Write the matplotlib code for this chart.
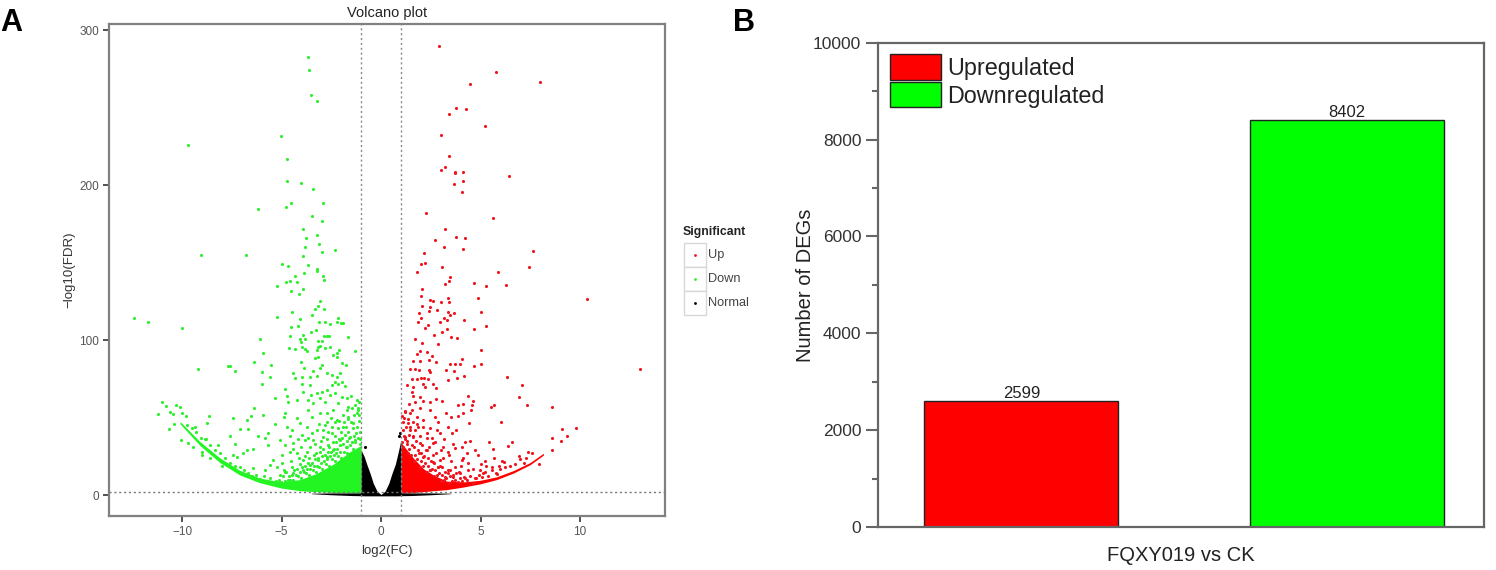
import matplotlib
matplotlib.use('Agg')
import matplotlib.pyplot as plt
from matplotlib.patches import Rectangle

plt.rcParams['font.family'] = ['Liberation Sans', 'DejaVu Sans']

W, H = 1496, 570

# A: scattered down-regulated genes (log2FC, -log10FDR)
down_top_x = [-3.65, -3.60, -3.54, -3.23, -5.03, -9.70, -4.74, -4.74, -4.02, -3.42, -4.52, -4.77, -2.91, -6.18, -3.48, -2.96, -3.93, -3.23, -3.78, -3.12, -3.81, -2.30, -2.97, -9.03, -6.78, -3.91, -4.99, -4.69, -3.69, -3.20]
down_top_y = [283, 274, 258, 254.6, 232, 226, 216.6, 203, 201.5, 197.8, 188.6, 186, 188.6, 184.5, 180, 177, 172, 168, 165.6, 162, 160, 158, 156.6, 155, 155, 154, 148.8, 148, 148.3, 146]
down_upper_x = [-12.43, -11.71, -9.98, -6.1, -7.67, -7.6, -7.34, -9.2, -6.36, -5.91, -5.53, -5.96, -5.6, -6.0, -5.23, -5.24, -4.77, -4.57, -4.22, -4.32, -3.87, -3.2, -2.91, -2.88, -3.94, -4.54, -4.12, -3.05, -3.32, -2.85, -3.15, -4.47, -3.47, -4.07, -4.19, -4.5, -3.1, -2.81, -2.56, -2.14, -2.23, -2.03, -1.91, -3.28, -3.5, -3.9, -4.56, -4.07, -3.82, -4.02, -1.67, -2.73, -2.86, -2.63, -3.15, -2.98, -3.07, -2.56, -2.81, -3.15, -3.2, -3.99, -3.82, -3.73, -4.6, -4.3, -1.29, -2.13, -2.19, -2.39, -2.21, -3.15, -3.32, -4.02, -1.98, -1.76, -2.95, -3.07, -3.87, -3.4, -4.44, -4.32, -3.57, -3.99, -3.23, -2.73, -2.48, -2.23, -2.06, -2.31, -2.48, -2.14, -1.81, -1.98, -3.57, -3.99, -3.9, -4.82, -4.74, -5.33, -4.66, -4.24, -3.53, -3.65, -3.23, -2.98, -2.73, -2.56, -3.07, -2.81, -2.31, -1.98, -1.72, -1.22]
down_upper_y = [114.2, 111.4, 108, 101, 83.2, 83.4, 79.8, 81.3, 86, 91.4, 84.1, 79.6, 76.4, 71.4, 135, 114.8, 137.2, 138, 137.2, 141.3, 143, 144.3, 141.3, 138.7, 133.3, 131.6, 129.5, 125.2, 120.4, 120.4, 122.2, 118, 116.3, 113.8, 109, 108.6, 111.8, 111.4, 110.1, 114, 111.4, 111.2, 111.2, 106.5, 105.2, 103.2, 102.4, 100.7, 100.4, 98.9, 101.7, 102.8, 102.8, 102.6, 99.6, 99.4, 96.1, 95.7, 94.6, 95.3, 93.6, 95.7, 94, 92.9, 95, 94.2, 93.3, 93.6, 91.4, 90.3, 89, 88.8, 88.2, 85.8, 85.4, 83.9, 83.9, 81.7, 82.2, 79.8, 79, 75.3, 76.4, 76.4, 77, 78.5, 77.4, 76.4, 79, 73.1, 71, 72, 70.3, 73.1, 71, 72, 66.7, 68.4, 63.9, 62.8, 60.2, 61.3, 64.5, 61.3, 65.6, 66.7, 67.8, 64.5, 62.4, 60.2, 65.6, 63.5, 62.4, 61.3]
down_low_x = [-11.02, -10.82, -10.6, -10.47, -11.22, -10.3, -10.1, -10.02, -9.8, -10.38, -10.64, -10.05, -9.35, -9.68, -9.43, -9.01, -9.01, -8.59, -8.79, -8.76, -8.64, -8.17, -7.59, -7.42, -6.75, -6.55, -6.38, -7.08, -6.67, -5.91, -6.2, -7.34, -6.75, -6.92, -6.41, -7.42, -7.25, -6.41, -5.83, -5.66, -5.33, -5.66, -5.41, -5.58, -5.83, -5.24, -4.82, -4.9, -4.74, -4.49, -5.07, -4.82, -4.4, -4.99, -4.57, -4.07, -4.24, -3.99, -4.24, -3.9, -3.65, -3.48, -3.73, -3.23, -3.4, -3.57, -3.82, -3.07, -2.73, -2.9, -2.48, -3.07, -2.65, -2.4, -2.23, -1.89, -2.06, -1.64, -1.39, -1.22, -1.56, -1.72, -1.3, -2.14, -1.64, -1.14, -3.4, -2.4, -2.73, -3.15, -3.57, -3.9, -4.4, -4.82]
down_low_y = [59.8, 57.4, 53.8, 52.3, 52.1, 58.1, 56.6, 52.7, 50.8, 45.8, 42.4, 35.5, 44.1, 33.4, 31.2, 28, 25.8, 23.7, 36, 46.7, 51, 32.3, 38.3, 49.7, 48.4, 51, 56.4, 42.4, 42.4, 51.6, 38.3, 33, 29, 26.9, 29.7, 25.8, 24.8, 17.2, 36.6, 39.8, 45.8, 32.3, 22.6, 19.4, 16.2, 18.3, 52.7, 50.6, 44.1, 41.9, 35.5, 32.3, 33.4, 25.8, 28, 46.3, 49.5, 38.7, 26.9, 22.6, 54.9, 50.6, 44.1, 41.9, 35.5, 31.2, 35.5, 52.7, 47.3, 37.7, 39.8, 31.2, 32.3, 54.9, 48.4, 44.1, 35.5, 50.6, 46.3, 52.7, 37.7, 31.2, 35.5, 59.2, 57, 54.9, 59.2, 29, 24.8, 22.6, 19.4, 16.2, 14, 15]
# rough reading of the crowded speckle just above the solid green mass
down_dense_x = [-1.08, -1.15, -1.06, -1.2, -1.12, -1.3, -1.09, -1.25, -1.18, -1.05,
                -1.4, -1.48, -1.35, -1.55, -1.42, -1.6, -1.5, -1.38, -1.66, -1.45,
                -1.7, -1.78, -1.85, -1.72, -1.9, -1.8, -1.95, -1.75, -1.68, -1.88,
                -2.0, -2.08, -2.15, -2.05, -2.2, -2.12, -2.25, -2.02, -2.18, -2.28,
                -2.3, -2.38, -2.45, -2.35, -2.5, -2.42, -2.55, -2.33, -2.48, -2.6,
                -2.62, -2.7, -2.78, -2.66, -2.82, -2.74, -2.88, -2.64, -2.8, -2.92,
                -2.95, -3.02, -3.1, -2.98, -3.15, -3.05, -3.2, -3.0, -3.12, -3.25,
                -3.28, -3.35, -3.42, -3.3, -3.48, -3.38, -3.55, -3.32, -3.45, -3.6,
                -3.62, -3.7, -3.78, -3.66, -3.82, -3.74, -3.88, -3.68, -3.8, -3.95,
                -4.0, -4.08, -4.15, -4.05, -4.2, -4.12, -4.28, -4.02, -4.18, -4.35,
                -4.4, -4.48, -4.55, -4.45, -4.62, -4.52, -4.7, -4.42, -4.58, -4.78,
                -4.85, -4.95, -5.05, -4.9, -5.15, -5.0, -5.3, -5.1, -5.45, -5.6,
                -5.75, -5.9, -6.1, -6.3, -6.5, -6.7, -6.9, -7.1, -7.35, -7.6,
                -7.85, -8.1, -8.35, -8.6, -8.85, -9.05, -9.3, -9.5, -9.75, -8.0,
                -1.12, -1.32, -1.52, -1.72, -1.92, -2.12, -2.32, -2.52, -2.72, -2.92]
down_dense_y = [33, 37, 41, 44, 48, 34, 52, 40, 56, 36,
                30, 34, 38, 32, 43, 37, 47, 52, 41, 56,
                27, 31, 28, 35, 33, 39, 37, 44, 49, 47,
                24, 28, 25, 32, 30, 36, 27, 41, 43, 34,
                22, 26, 23, 30, 28, 34, 25, 38, 44, 31,
                19, 23, 20, 28, 26, 36, 22, 41, 45, 30,
                17, 21, 18, 25, 24, 28, 19, 35, 46, 27,
                15, 19, 16, 23, 21, 26, 17, 33, 40, 24,
                13, 17, 14, 21, 19, 28, 15, 37, 25, 18,
                11, 15, 12, 20, 17, 24, 13, 31, 36, 16,
                10, 13, 9.5, 18, 12, 22, 10, 30, 38, 15,
                9, 12, 8.5, 16, 10, 21, 9, 13, 8, 11,
                9, 12, 10.5, 13, 12.5, 14, 16, 18, 19, 21,
                24, 27, 29, 32, 36, 37, 41, 43, 45, 19,
                60, 58, 64, 55, 52, 48, 47, 50, 53, 42]

# A: scattered up-regulated genes
up_top_x = [2.93, 5.76, 4.49, 7.99, 3.75, 4.29, 3.40, 5.21, 3.03, 3.40, 3.23, 3.03, 3.70, 3.72, 4.10, 6.43, 4.10, 3.65, 4.07, 2.26, 5.61, 3.20, 3.77, 4.22, 2.71, 3.18, 4.12, 7.62, 2.16, 2.19, 2.01, 3.07, 7.44]
up_top_y = [290, 273, 265.6, 266.5, 249.7, 249, 246, 238, 232.5, 218.7, 211.6, 210, 208.4, 207.6, 208.4, 205.6, 202.4, 200.8, 195.3, 182, 178.7, 171.4, 166.5, 166.2, 164.5, 160.4, 159, 157.8, 156.3, 149.5, 148.8, 147.3, 147]
up_upper_x = [10.34, 13.0, 1.81, 3.45, 3.22, 3.43, 5.88, 4.67, 5.28, 6.26, 2.08, 2.03, 3.35, 3.4, 4.89, 2.46, 2.61, 3.03, 2.08, 2.48, 2.4, 2.83, 3.37, 3.67, 3.48, 5.04, 1.89, 2.03, 1.84, 3.15, 3.33, 2.98, 4.19, 2.35, 2.21, 3.3, 3.08, 4.69, 5.28, 2.68, 3.53, 3.84, 1.73, 2.04, 2.88, 5.01, 1.96, 2.33, 1.79, 2.55, 1.61, 1.96, 2.43, 2.76, 4.07, 3.48, 3.7, 3.99, 4.66, 5.01, 1.46, 1.71, 1.93, 2.43, 3.25, 3.67, 2.46, 1.57, 1.79, 2.03, 2.18, 2.38, 3.38, 3.84, 4.17, 6.33, 1.31, 1.59, 2.13, 2.21, 2.63, 2.76, 7.07, 6.93, 1.57, 1.63, 1.96, 1.71, 2.13, 2.46, 2.76, 3.05, 4.36, 4.64, 4.14, 3.89, 4.59, 5.68, 5.53, 7.32, 8.59]
up_upper_y = [126.5, 81.1, 144.1, 141, 136.3, 138.3, 144.1, 136.6, 135, 135.5, 133.3, 128.4, 127.5, 124.7, 127.3, 125.8, 125.2, 124.5, 122.2, 121.5, 118.7, 119.2, 118.3, 117.6, 116.1, 118.3, 117.6, 114, 111.6, 114, 113.3, 111.6, 113.1, 109.7, 107.5, 107.1, 105.2, 106.9, 108.8, 103.2, 101.9, 101.1, 100.9, 97.9, 97.2, 93.6, 93.1, 92.1, 91, 89.7, 86.3, 86.7, 86.9, 86, 87.8, 84.8, 84.3, 84.5, 83.2, 84.3, 81.3, 81.1, 80.7, 80.7, 80.7, 80, 79.2, 74.9, 74.9, 75.7, 75.7, 75.1, 74.4, 75.7, 76.8, 76, 71.2, 69.9, 72, 69.9, 71.4, 69, 71, 63.2, 66.7, 63.9, 63.5, 60.2, 60.9, 60.2, 61.7, 60.4, 63.7, 60.9, 58.5, 58.1, 58.1, 58.1, 56.6, 58.3, 56.6]
up_low_x = [1.42, 1.54, 1.21, 1.16, 1.96, 1.79, 2.13, 2.46, 2.71, 2.88, 3.27, 3.5, 3.89, 4.1, 4.41, 4.54, 3.37, 3.77, 2.97, 6.03, 9.08, 9.82, 8.59, 9.35, 9.05, 5.44, 6.6, 6.4, 5.65, 4.72, 4.89, 4.47, 4.22, 3.72, 4.05, 6.93, 7.4, 7.6, 7.29, 8.59, 7.92, 6.18, 5.23, 5.56, 5.95, 4.97, 5.14, 5.81, 4.39, 4.05, 3.72, 3.38, 4.39, 3.97, 2.97, 2.63, 2.3, 1.96, 2.63, 1.46, 1.21, 1.63, 2.3, 1.88, 1.37, 2.55, 3.13, 3.38, 2.13, 2.88, 2.46, 3.22, 3.64, 4.22, 4.72]
up_low_y = [58.7, 54.9, 53.8, 49.5, 56, 50.6, 48.4, 54.9, 50.6, 47.3, 52.7, 50.6, 51.2, 52.7, 46.3, 54.9, 44.1, 41.9, 39.8, 46.9, 42.8, 43.5, 36.6, 38.3, 34.9, 34, 34, 31.9, 29.7, 28.9, 25.8, 35.1, 34.4, 30.1, 31.2, 25, 28, 27.1, 23.7, 29, 20.3, 21.3, 22.2, 18.3, 18.9, 16.2, 14, 13.6, 20.5, 22.6, 18.3, 16.2, 16.2, 14, 22.6, 21.5, 29, 33.4, 33.4, 41.9, 37.7, 37.7, 39.8, 44.1, 46.3, 36.6, 31.2, 28, 24.8, 18.3, 16.2, 11.9, 11.9, 10.8, 10.8]
# rough reading of the crowded speckle just above the solid red mass
up_dense_x = [1.06, 1.14, 1.08, 1.2, 1.1, 1.3, 1.05, 1.25, 1.18, 1.12,
              1.35, 1.42, 1.32, 1.5, 1.4, 1.55, 1.46, 1.36, 1.6, 1.44,
              1.65, 1.72, 1.8, 1.68, 1.85, 1.76, 1.9, 1.7, 1.62, 1.82,
              1.95, 2.02, 2.1, 2.0, 2.15, 2.06, 2.2, 1.98, 2.12, 2.25,
              2.3, 2.38, 2.45, 2.35, 2.5, 2.42, 2.55, 2.33, 2.48, 2.6,
              2.65, 2.72, 2.8, 2.68, 2.85, 2.76, 2.9, 2.7, 2.82, 2.95,
              3.0, 3.08, 3.15, 3.05, 3.2, 3.12, 3.28, 3.02, 3.18, 3.35,
              3.4, 3.48, 3.55, 3.45, 3.62, 3.52, 3.7, 3.42, 3.58, 3.78,
              3.85, 3.95, 4.05, 3.9, 4.15, 4.0, 4.3, 4.1, 4.45, 4.6,
              4.75, 4.9, 5.05, 5.2, 5.4, 5.6, 5.8, 6.0, 6.25, 6.5,
              6.75, 7.0, 7.2, 5.3, 5.0, 4.6, 4.3, 5.7, 6.1, 3.6]
up_dense_y = [34, 38, 42, 36, 47, 33, 51, 44, 54, 31,
              27, 30, 35, 26, 39, 32, 44, 49, 38, 53,
              22, 26, 23, 31, 29, 35, 27, 42, 47, 46,
              18, 22, 19, 27, 25, 32, 21, 38, 44, 29,
              15, 19, 16, 24, 22, 31, 17, 37, 43, 26,
              12, 16, 13, 21, 18, 27, 14, 34, 42, 19,
              9, 13, 10, 18, 15, 24, 11, 29, 36, 14,
              8, 12, 9, 16, 13, 22, 10, 26, 40, 14,
              8.5, 11, 9, 15, 11.5, 19, 9.5, 24, 12, 8,
              11, 13, 11.5, 15, 12, 16, 14, 17, 18, 19,
              20, 23, 21, 19, 20, 17, 27, 24, 22, 33]

# A: overplotted points merge into solid masses, so their outlines are read instead
down_mass_x = [-10.1, -9.1, -8.1, -7.1, -6.1, -5.0, -4.07, -3.23, -2.39, -1.56, -1.0]
down_mass_top = [47.5, 34.5, 24, 16, 11, 8.5, 10, 14, 20, 28, 32]
down_mass_bottom = [46, 32, 21, 13, 8, 4.5, 2.8, 2.2, 1.7, 1.5, 1.3]
up_mass_x = [1.0, 1.62, 2.13, 2.63, 3.3, 4.14, 4.97, 5.81, 6.65, 7.49, 8.16]
up_mass_top = [34, 24, 17, 13, 9, 8.5, 9.5, 11.8, 15.8, 21, 27]
up_mass_bottom = [1.3, 1.6, 2.2, 2.8, 3.5, 5.2, 7.2, 10, 14.2, 19.6, 25.8]
normal_x = [-3.5, -2.5, -1.5, -1.01, -1.0, -0.85, -0.72, -0.55, -0.39, -0.2, 0, 0.2, 0.39, 0.55, 0.72, 0.85, 1.0, 1.01, 1.5, 2.5, 3.5]
normal_top = [1.2, 1.4, 1.4, 1.4, 29, 25, 20, 14, 7.6, 2.5, 0.4, 2.5, 7.6, 14, 20, 27, 35.5, 1.4, 1.4, 1.4, 1.2]
normal_bottom = [0.9, 0.2, -0.3, -0.4, -0.4, -0.5, -0.5, -0.5, -0.5, -0.5, -0.5, -0.5, -0.5, -0.5, -0.5, -0.5, -0.4, -0.4, -0.3, 0.2, 0.9]
normal_pts_x = [-0.8, 0.95, 0.92]
normal_pts_y = [31, 40, 38]

volcano_xticks = [-10, -5, 0, 5, 10]
volcano_yticks = [0, 100, 200, 300]
cutoff_fc = [-1, 1]
cutoff_fdr = 2

# B
deg_labels = ['Upregulated', 'Downregulated']
deg_counts = [2599, 8402]
deg_colors = ['#ff0000', '#00ff00']
deg_yticks = [0, 2000, 4000, 6000, 8000, 10000]

fig = plt.figure(figsize=(W / 100, H / 100), dpi=100)

def px_axes(left, top, right, bottom):
    return fig.add_axes([left / W, 1 - bottom / H, (right - left) / W, (bottom - top) / H])

# ---------- panel A ----------
ax = px_axes(109, 24, 665, 516)
red, green = '#f0141e', '#2cf02c'
ax.fill_between(down_mass_x, down_mass_bottom, down_mass_top, color='#22f522', lw=0, zorder=2)
ax.fill_between(up_mass_x, up_mass_bottom, up_mass_top, color='#ff0000', lw=0, zorder=2)
ax.scatter(down_top_x + down_upper_x + down_low_x + down_dense_x, down_top_y + down_upper_y + down_low_y + down_dense_y, s=5, color=green, lw=0, zorder=3)
ax.scatter(up_top_x + up_upper_x + up_low_x + up_dense_x, up_top_y + up_upper_y + up_low_y + up_dense_y, s=5, color=red, lw=0, zorder=3)
ax.fill_between(normal_x, normal_bottom, normal_top, color='black', lw=0, zorder=4)
ax.scatter(normal_pts_x, normal_pts_y, s=5, color='black', lw=0, zorder=4)
for v in cutoff_fc:
    ax.axvline(v, color='#888888', lw=1, ls=(0, (1.5, 2)), zorder=5)
ax.axhline(cutoff_fdr, color='#777777', lw=1, ls=(0, (1.5, 2)), zorder=5)
ax.set_xlim(-13.67, 14.27)
ax.set_ylim(-13.5, 304)
ax.set_xticks(volcano_xticks)
ax.set_xticklabels(['\u221210', '\u22125', '0', '5', '10'])
ax.set_yticks(volcano_yticks)
ax.tick_params(length=4, width=1.2, color='#333333', labelsize=8.5, labelcolor='#555555', pad=3)
for s in ax.spines.values():
    s.set_color('#808080')
    s.set_linewidth(1.6)
ax.set_title('Volcano plot', fontsize=10.5, color='#222222', pad=5)
ax.set_xlabel('log2(FC)', fontsize=9.5, color='#333333', labelpad=5)
ax.set_ylabel('\u2212log10(FDR)', fontsize=9.5, color='#333333', labelpad=3)

# legend of A
fig.text(683 / W, 1 - 232 / H, 'Significant', fontsize=8.8, fontweight='bold', va='center', color='#222222')
legend_names = ['Up', 'Down', 'Normal']
legend_colors = [red, green, 'black']
for i, (name, c) in enumerate(zip(legend_names, legend_colors)):
    y0 = 243 + i * 24
    fig.add_artist(Rectangle((684 / W, 1 - (y0 + 24) / H), 22 / W, 24 / H, transform=fig.transFigure,
                             fc='white', ec='#d8d8d8', lw=1))
    fig.add_artist(plt.Line2D([695 / W], [1 - (y0 + 12) / H], marker='o', ms=2, color=c, mew=0, transform=fig.transFigure))
    fig.text(708 / W, 1 - (y0 + 12) / H, name, fontsize=9.2, va='center', color='#444444')

fig.text(0 / W, 1 - 23 / H, 'A', fontsize=22, fontweight='bold', va='center')
fig.text(733 / W, 1 - 23 / H, 'B', fontsize=22, fontweight='bold', va='center')

# ---------- panel B ----------
bx = px_axes(878, 42.7, 1484, 527)
pos = [0, 1]
bars = bx.bar(pos, deg_counts, width=0.596, color=deg_colors, edgecolor='#222222', linewidth=1, label='_')
bx.bar_label(bars, labels=[str(v) for v in deg_counts], fontsize=12, padding=0, color='#222222')
bx.set_xlim(-0.44, 1.42)
bx.set_ylim(0, 10000)
bx.set_xticks([])
bx.set_yticks(deg_yticks)
bx.set_yticks(range(1000, 10000, 2000), minor=True)
bx.tick_params(axis='y', which='major', length=9, width=1.5, color='#666666', labelsize=12.5, labelcolor='#333333', pad=3)
bx.tick_params(axis='y', which='minor', length=4, width=1.5, color='#666666')
for s in bx.spines.values():
    s.set_color('#666666')
    s.set_linewidth(1.6)
bx.set_xlabel('FQXY019 vs CK', fontsize=14.5, color='#222222', labelpad=14)
bx.set_ylabel('Number of DEGs', fontsize=14.5, color='#222222', labelpad=-1.5)
handles = [Rectangle((0, 0), 1, 1, fc=c, ec='#222222', lw=1) for c in deg_colors]
bx.legend(handles, deg_labels, loc='upper left', bbox_to_anchor=(-0.0065, 1.01), frameon=False, fontsize=16.8,
          handlelength=2.17, handleheight=1.3, labelspacing=0.1, handletextpad=0.25, borderpad=0.2, labelcolor='#222222')

fig.savefig('out.png', dpi=100)
